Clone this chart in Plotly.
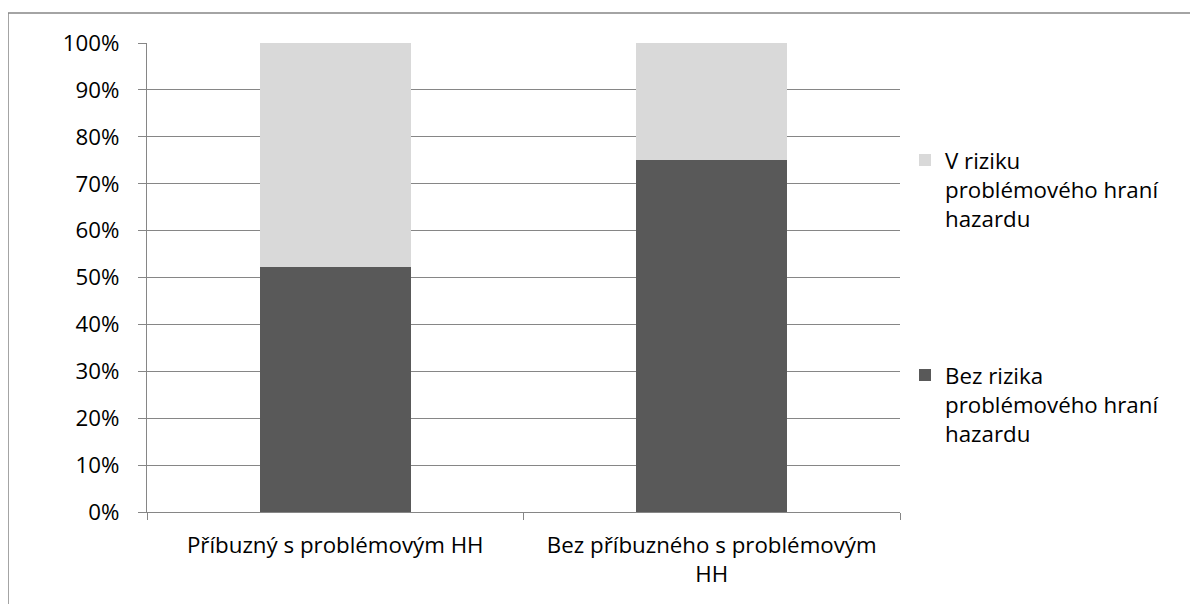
import plotly.graph_objects as go

categories = ["Příbuzný s problémovým HH", "Bez příbuzného s problémovým<br>HH"]
bez_rizika = [0.523, 0.75]
v_riziku = [0.477, 0.25]
series_names = ["Bez rizika<br>problémového hraní<br>hazardu", "V riziku<br>problémového hraní<br>hazardu"]
y_ticks = [i / 10 for i in range(11)]

FONT = "Open Sans"
FS = 22.3
GRID = "#868686"

# page body has an 8px offset; figure coordinates = screen - 8
OFF = 8
W, H = 1198 - OFF, 604 - OFF
L, T = 147 - OFF, 43 - OFF
R = W - (900 - OFF)
B = H - (512 - OFF)
pw, ph = W - L - R, H - T - B

fig = go.Figure()
fig.add_trace(go.Bar(x=categories, y=bez_rizika, name=series_names[0],
                     marker=dict(color="#595959", line=dict(width=0)), width=0.4,
                     legend="legend2", showlegend=True))
fig.add_trace(go.Bar(x=categories, y=v_riziku, name=series_names[1],
                     marker=dict(color="#d9d9d9", line=dict(width=0)), width=0.4,
                     legend="legend", showlegend=True))

def px2x(px):
    return (px - OFF - L) / pw

def py2y(py):
    return (H - B - (py - OFF)) / ph

fig.update_layout(
    width=W, height=H, autosize=False, showlegend=True,
    margin=dict(l=L, r=R, t=T, b=B, pad=0),
    paper_bgcolor="white", plot_bgcolor="white",
    barmode="stack", bargap=0.6,
    font=dict(family=FONT, size=FS, color="#000000"),
    xaxis=dict(type="category", range=[-0.5, 1.5], showline=True, linecolor=GRID, linewidth=1,
               ticks="outside", tickson="boundaries", ticklen=7, tickcolor=GRID, tickwidth=1,
               showgrid=False, tickfont=dict(size=FS), automargin=False, ticklabelstandoff=13),
    yaxis=dict(range=[0, 1], tickvals=y_ticks, tickformat=".0%", showline=True, linecolor=GRID,
               linewidth=1, ticks="outside", ticklen=8, tickcolor=GRID, tickwidth=1,
               showgrid=True, gridcolor=GRID, gridwidth=1, zeroline=False,
               tickfont=dict(size=FS), automargin=False, ticklabelstandoff=14),
    legend=dict(x=px2x(905), y=py2y(139), xanchor="left", yanchor="top", valign="top",
                bgcolor="rgba(0,0,0,0)", font=dict(size=FS), itemclick=False),
    legend2=dict(x=px2x(905), y=py2y(354), xanchor="left", yanchor="top", valign="top",
                 bgcolor="rgba(0,0,0,0)", font=dict(size=FS), itemclick=False),
    shapes=[dict(type="rect", xref="paper", yref="paper",
                 x0=px2x(8), x1=px2x(1300), y0=py2y(800), y1=py2y(13),
                 line=dict(color=GRID, width=1.5), fillcolor="rgba(0,0,0,0)", layer="below")],
)

fig.write_html("out.html")
